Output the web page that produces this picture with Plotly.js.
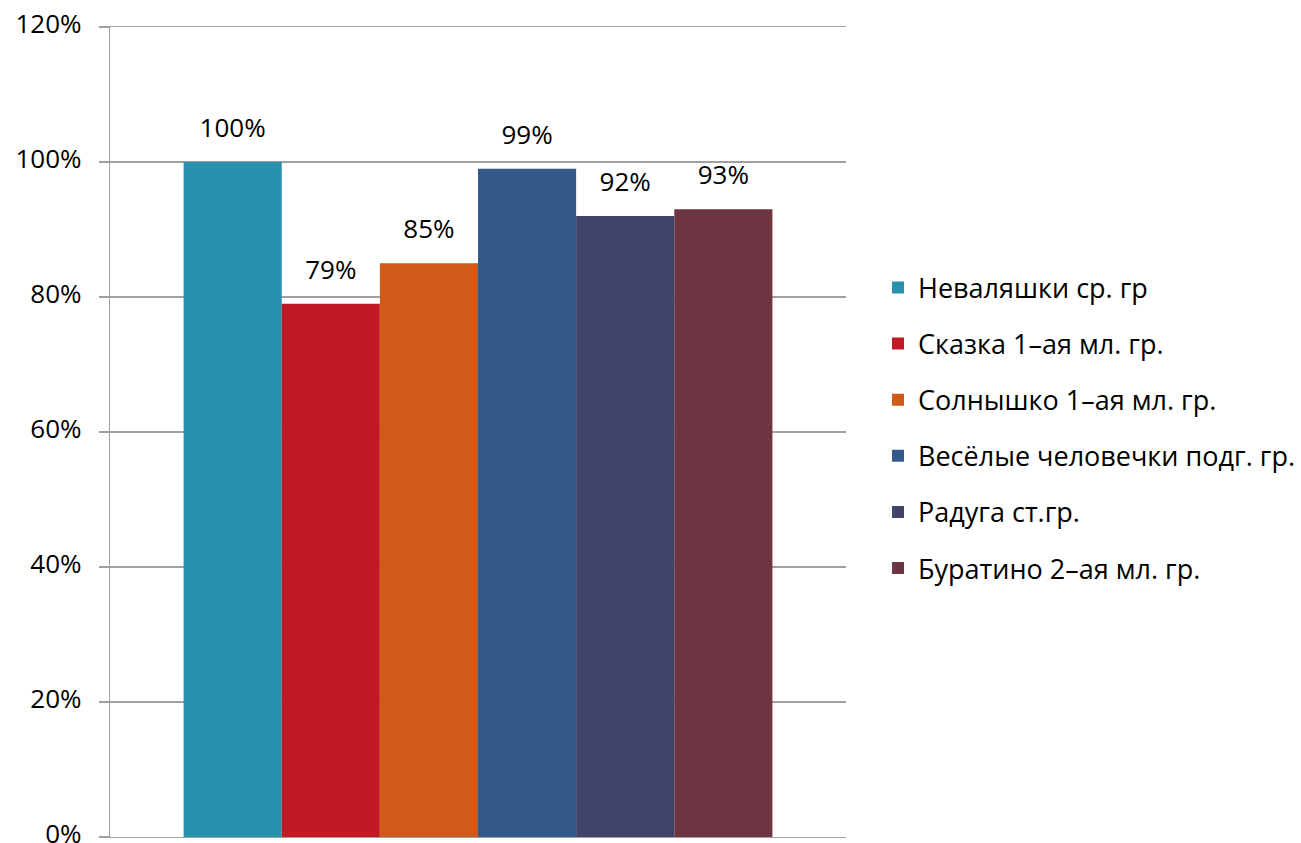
<!DOCTYPE html>
<html>
<head>
<meta charset="utf-8">
<script src="https://cdn.plot.ly/plotly-3.0.1.min.js"></script>
<style>html,body{margin:0;padding:0;background:#fff;}#chart{width:1301px;height:843px;}</style>
</head>
<body>
<div id="chart"></div>
<script>
const groups = ["Неваляшки ср. гр", "Сказка 1–ая мл. гр.", "Солнышко 1–ая мл. гр.", "Весёлые человечки подг. гр.", "Радуга ст.гр.", "Буратино 2–ая мл. гр."];
const values = [1.00, 0.79, 0.85, 0.99, 0.92, 0.93];
const colors = ["#2990AD", "#C01B24", "#D05A18", "#345A8B", "#41436A", "#6D3541"];
const category = [""];
const yTicks = [0, 0.2, 0.4, 0.6, 0.8, 1.0, 1.2];

const FONT = "Open Sans, DejaVu Sans, sans-serif";
const FS = 26;
const Y_MAX = 1.2;
const LABEL_LIFT = 0.021; // label overlay axis offset (value units)

const barTraces = groups.map((g, i) => ({
  type: "bar",
  name: g,
  x: category,
  y: [values[i]],
  marker: {color: colors[i]},
  hoverinfo: "skip",
  legendgroup: "g" + i
}));

const labelTraces = groups.map((g, i) => ({
  type: "bar",
  name: g,
  x: category,
  y: [values[i]],
  yaxis: "y2",
  marker: {color: "rgba(0,0,0,0)"},
  texttemplate: "%{y:.0%}",
  textposition: "outside",
  cliponaxis: false,
  textfont: {family: FONT, size: FS, color: "#000"},
  hoverinfo: "skip",
  showlegend: false
}));

const layout = {
  width: 1301,
  height: 843,
  margin: {l: 110, r: 455, t: 27, b: 6, autoexpand: false},
  paper_bgcolor: "#fff",
  plot_bgcolor: "#fff",
  barmode: "group",
  bargap: 0.2,
  bargroupgap: 0,
  showlegend: true,
  font: {family: FONT, size: FS, color: "#000"},
  xaxis: {showticklabels: false, showgrid: false, zeroline: false,
          showline: true, mirror: true, linecolor: "#A0A0A0", linewidth: 1.3, ticks: ""},
  yaxis: {
    range: [0, Y_MAX],
    tickvals: yTicks,
    tickformat: ".0%",
    ticks: "outside",
    ticklen: 10,
    tickcolor: "#A0A0A0",
    tickwidth: 1.3,
    showgrid: true,
    gridcolor: "#A0A0A0",
    gridwidth: 1.3,
    zeroline: false,
    showline: true,
    linecolor: "#A0A0A0",
    linewidth: 1.3,
    ticklabelstandoff: 12,
    ticklabelshift: -3,
    ticklabeloverflow: "allow",
    tickfont: {family: FONT, size: FS, color: "#000"}
  },
  yaxis2: {
    overlaying: "y",
    range: [-LABEL_LIFT, Y_MAX - LABEL_LIFT],
    visible: false,
    showgrid: false,
    zeroline: false
  },
  legend: {
    x: 1.0435, xanchor: "left",
    y: 0.505, yanchor: "middle",
    traceorder: "grouped",
    tracegroupgap: 18,
    font: {family: FONT, size: 27, color: "#000"}
  }
};

Plotly.newPlot("chart", barTraces.concat(labelTraces), layout, {displayModeBar: false, staticPlot: true});
</script>
</body>
</html>
